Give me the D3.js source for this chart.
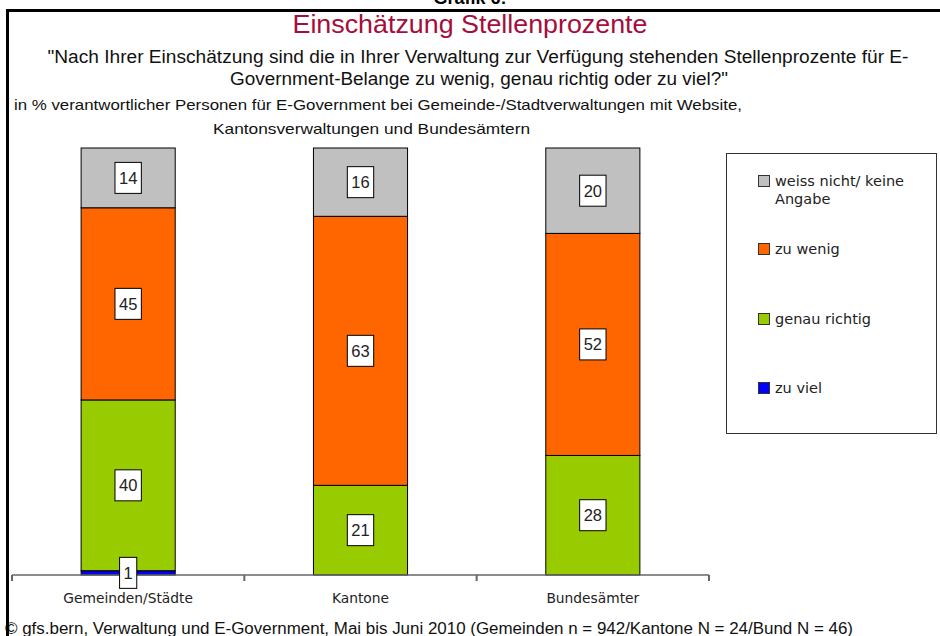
<!DOCTYPE html>
<html>
<head>
<meta charset="utf-8">
<script src="https://cdn.jsdelivr.net/npm/d3@7"></script>
<style>
  body { margin: 0; background: #fff; }
  svg { display: block; font-family: "Liberation Sans", Arial, sans-serif; }
</style>
</head>
<body>
<div id="chart"></div>
<script>
// data
const categories = ["Gemeinden/Städte", "Kantone", "Bundesämter"];
const seriesNames = ["zu viel", "genau richtig", "zu wenig", "weiss nicht/ keine Angabe"];
const zuViel = [1, 0, 0];
const genauRichtig = [40, 21, 28];
const zuWenig = [45, 63, 52];
const weissNicht = [14, 16, 20];
const colors = ["#0000ff", "#99cc00", "#ff6600", "#c0c0c0"];

const W = 940, H = 636;

const svg = d3.select("#chart").append("svg")
  .attr("width", W)
  .attr("height", H);

svg.append("rect").attr("width", W).attr("height", H).attr("fill", "#fff");

// frame
svg.append("path")
  .attr("d", "M7.5," + H + "V10.5H" + W)
  .attr("fill", "none")
  .attr("stroke", "#000")
  .attr("stroke-width", 3);

// helper for texts, optionally stretched to a given width
function addText(txt, x, y, size, anchor, len, color) {
  const t = svg.append("text")
    .attr("x", x).attr("y", y)
    .attr("font-size", size)
    .attr("text-anchor", anchor || "start")
    .attr("fill", color || "#000")
    .text(txt);
  if (len) t.attr("textLength", len).attr("lengthAdjust", "spacingAndGlyphs");
  return t;
}

// the chart number sits mostly above the page edge, as in the original
addText("Grafik 6:", 470, 4, 18, "middle").attr("font-weight", "bold");
addText("Einschätzung Stellenprozente", 470, 33, 25.5, "middle", 355, "#a50d3c");
addText("\"Nach Ihrer Einschätzung sind die in Ihrer Verwaltung zur Verfügung stehenden Stellenprozente für E-",
  478, 63, 17.5, "middle", 861, "#111");
addText("Government-Belange zu wenig, genau richtig oder zu viel?\"", 479, 85, 17.5, "middle", 498, "#111");
addText("in % verantwortlicher Personen für E-Government bei Gemeinde-/Stadtverwaltungen mit Website,",
  14, 110, 15, "start", 728, "#111");
addText("Kantonsverwaltungen und Bundesämtern", 213, 134, 15, "start", 317, "#111");
addText("© gfs.bern, Verwaltung und E-Government, Mai bis Juni 2010 (Gemeinden n = 942/Kantone N = 24/Bund N = 46)",
  5, 634, 16, "start", 848, "#111");

// scales
const x = d3.scaleBand()
  .domain(categories)
  .range([12, 709])
  .paddingInner(0.595)
  .paddingOuter(0.2975);

const y = d3.scaleLinear()
  .domain([0, 100])
  .range([575, 148]);

// stacking
const rows = categories.map((c, i) => ({
  cat: c,
  "zu viel": zuViel[i],
  "genau richtig": genauRichtig[i],
  "zu wenig": zuWenig[i],
  "weiss nicht/ keine Angabe": weissNicht[i]
}));
const stacked = d3.stack().keys(seriesNames)(rows);

const layers = svg.append("g").selectAll("g")
  .data(stacked)
  .join("g")
  .attr("fill", (d, i) => colors[i]);

layers.selectAll("rect")
  .data(d => d.filter(s => s[1] - s[0] > 0))
  .join("rect")
  .attr("x", d => x(d.data.cat))
  .attr("y", d => y(d[1]))
  .attr("width", x.bandwidth())
  .attr("height", d => y(d[0]) - y(d[1]))
  .attr("stroke", "#000")
  .attr("stroke-width", 1);

// axis line and ticks at category boundaries
const xr = x.range();
const bounds = d3.range(categories.length + 1).map(i => xr[0] + i * x.step());
svg.append("line")
  .attr("x1", xr[0]).attr("x2", xr[1])
  .attr("y1", y(0)).attr("y2", y(0))
  .attr("stroke", "#666").attr("stroke-width", 1.5);
svg.selectAll(".tick")
  .data(bounds)
  .join("line")
  .attr("class", "tick")
  .attr("x1", d => d).attr("x2", d => d)
  .attr("y1", y(0)).attr("y2", y(0) + 6)
  .attr("stroke", "#666").attr("stroke-width", 2);

svg.selectAll(".cat")
  .data(categories)
  .join("text")
  .attr("class", "cat")
  .attr("x", d => x(d) + x.bandwidth() / 2)
  .attr("y", 603)
  .attr("text-anchor", "middle")
  .attr("font-family", "DejaVu Sans, sans-serif")
  .attr("font-size", 13.8)
  .attr("fill", "#222")
  .text(d => d);

// value labels in white boxes
const labels = [];
stacked.forEach(layer => {
  layer.forEach(s => {
    const v = s[1] - s[0];
    if (v > 0) labels.push({ v: v, cx: x(s.data.cat) + x.bandwidth() / 2, cy: y((s[0] + s[1]) / 2) });
  });
});

const lab = svg.append("g").selectAll("g")
  .data(labels)
  .join("g");

lab.append("text")
  .attr("x", d => d.cx)
  .attr("y", d => d.cy + 6)
  .attr("text-anchor", "middle")
  .attr("font-size", 16.5)
  .attr("fill", "#222")
  .text(d => d.v);

lab.each(function() {
  const g = d3.select(this);
  const bb = g.select("text").node().getBBox();
  g.insert("rect", "text")
    .attr("x", bb.x - 4)
    .attr("y", bb.y + bb.height / 2 - 15.5)
    .attr("width", bb.width + 8)
    .attr("height", 31)
    .attr("fill", "#fff")
    .attr("stroke", "#000")
    .attr("stroke-width", 1);
});

// legend
svg.append("rect")
  .attr("x", 726.5).attr("y", 153.5)
  .attr("width", 210).attr("height", 280)
  .attr("fill", "#fff")
  .attr("stroke", "#333");

const legendOrder = [3, 2, 1, 0];
const legendY = [181, 249, 319, 388];
const leg = svg.append("g").selectAll("g")
  .data(legendOrder)
  .join("g")
  .attr("transform", (d, i) => "translate(758," + legendY[i] + ")");

leg.append("rect")
  .attr("x", 0.5).attr("y", -5.5)
  .attr("width", 11).attr("height", 11)
  .attr("fill", d => colors[d])
  .attr("stroke", "#333");

leg.append("text")
  .attr("x", 17)
  .attr("y", 5)
  .attr("font-family", "DejaVu Sans, sans-serif")
  .attr("font-size", 14.5)
  .attr("fill", "#222")
  .each(function(d) {
    const name = seriesNames[d];
    const parts = d === 3 ? ["weiss nicht/ keine", "Angabe"] : [name];
    d3.select(this).selectAll("tspan")
      .data(parts)
      .join("tspan")
      .attr("x", 17)
      .attr("dy", (p, i) => i === 0 ? 0 : 18)
      .text(p => p);
  });
</script>
</body>
</html>
